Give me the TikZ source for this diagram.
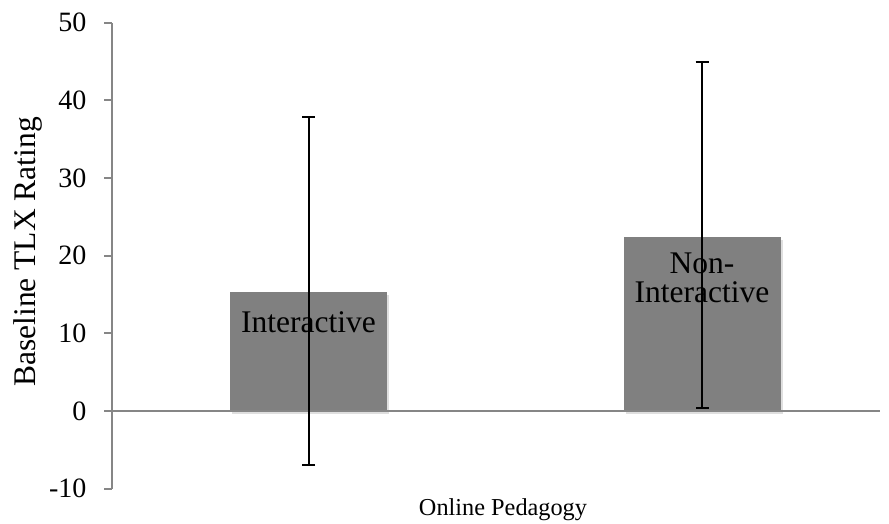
\documentclass[tikz,border=0pt]{standalone}
\usepackage{fontspec}
\setmainfont{Liberation Serif}
\usetikzlibrary{arrows.meta,shadows}
\definecolor{axisgray}{HTML}{868686}
\definecolor{bargray}{HTML}{808080}

\begin{document}
\begin{tikzpicture}
[x=1pt,y=-1pt,
  axisDecorate/.style={draw=axisgray,line width=2pt},
  barDecorate/.style={fill=bargray,draw=none,minimum width=157pt,inner sep=0pt,anchor=south,
    drop shadow={shadow xshift=2pt,shadow yshift=-3pt,opacity=0.25}},
  errDecorate/.style={line width=2pt,{Bar[width=13pt]}-{Bar[width=13pt]}},
  tickText/.style={anchor=east,font=\fontsize{28}{30}\selectfont},
  barText/.style={align=center,font=\fontsize{31.5}{29}\selectfont}]
\useasboundingbox (0,0) rectangle (889,523);
%% bars
\foreach \name/\x/\top in {int/308.5/292, non/702/237} {
  \node (\name) [barDecorate,minimum height={(411-\top)*1pt}] at (\x,411) {};
}
%% axes
\coordinate (yTop) at (112,23);
\coordinate (yBot) at (112,489);
\coordinate (xLeft) at (112,411);
\coordinate (xRight) at (880,411);
\draw[axisDecorate] (yTop) -- (yBot);
\draw[axisDecorate] (xLeft) -- (xRight);
\foreach \v in {-10,0,10,20,30,40,50} {
  \coordinate (tick\v) at (112,{411-7.767*\v});
  \draw[axisDecorate] ([xshift=-8pt]tick\v) -- (tick\v);
  \node (tickText\v) [tickText] at ([xshift=-22pt]tick\v) {\v};
}
%% texts
\node (intText) [barText] at (308.5,322) {Interactive};
\node (nonText) [barText] at (702,278) {Non-\\Interactive};
\node (yTitle) [rotate=90,font=\fontsize{31.5}{34}\selectfont] at (28,252) {Baseline TLX Rating};
\node (xTitle) [font=\fontsize{24.3}{26}\selectfont] at (503,510) {Online Pedagogy};
%% error bars
\foreach \name/\x/\hi/\lo in {int/308.5/116/466, non/702/61/409} {
  \coordinate (\name Hi) at (\x,\hi);
  \coordinate (\name Lo) at (\x,\lo);
  \draw[errDecorate] (\name Hi) -- (\name Lo);
}
\end{tikzpicture}
\end{document}
